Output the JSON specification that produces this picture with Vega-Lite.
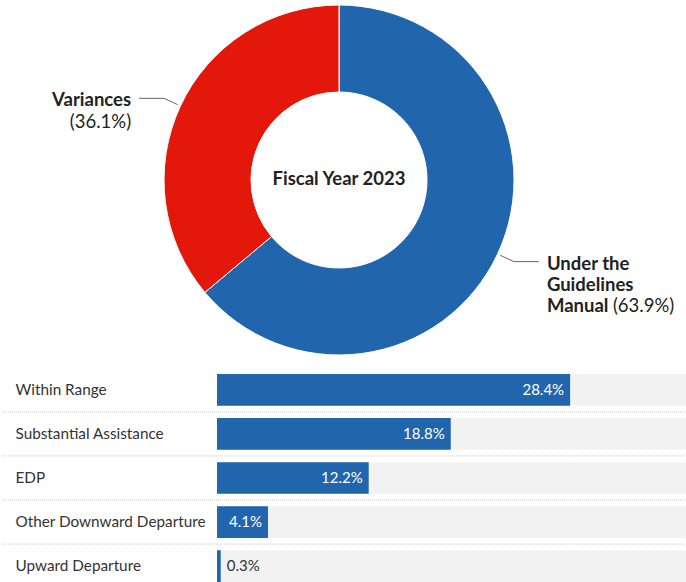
{
  "$schema": "https://vega.github.io/schema/vega-lite/v6.json",
  "padding": 0,
  "background": "white",
  "spacing": 14,
  "config": {"view": {"stroke": null}, "font": "Lato", "text": {"font": "Lato"}, "axis": {"labelFont": "Lato"}},
  "vconcat": [
    {
      "width": 676,
      "height": 360,
      "data": {"values": [
        {"name": "Under the Guidelines Manual", "value": 0.639, "ord": 1},
        {"name": "Variances", "value": 0.361, "ord": 2}
      ]},
      "transform": [
        {"stack": "value", "groupby": [], "sort": [{"field": "ord", "order": "ascending"}], "as": ["v0", "v1"]},
        {"calculate": "PI*(datum.v0+datum.v1)", "as": "a"},
        {"calculate": "178*sin(datum.a)", "as": "x0"},
        {"calculate": "178*cos(datum.a)", "as": "y0"},
        {"calculate": "193*sin(datum.a)", "as": "x1"},
        {"calculate": "193*cos(datum.a)", "as": "y1"},
        {"calculate": "datum.x1 + (sin(datum.a) > 0 ? 25 : -25)", "as": "x2"},
        {"calculate": "'(' + format(datum.value, '.1%') + ')'", "as": "pct"}
      ],
      "layer": [
        {
          "mark": {"type": "arc", "outerRadius": 175, "innerRadius": 88, "stroke": "#ffffff", "strokeWidth": 1},
          "encoding": {
            "theta": {"field": "v0", "type": "quantitative", "scale": {"domain": [0, 1]}},
            "theta2": {"field": "v1"},
            "color": {"field": "name", "type": "nominal", "scale": {"domain": ["Under the Guidelines Manual", "Variances"], "range": ["#2166ac", "#e3170a"]}, "legend": null}
          }
        },
        {
          "mark": {"type": "rule", "color": "#666666", "strokeWidth": 1},
          "encoding": {
            "x": {"field": "x0", "type": "quantitative", "scale": {"domain": [-338, 338], "nice": false, "zero": false}, "axis": null},
            "y": {"field": "y0", "type": "quantitative", "scale": {"domain": [-180, 180], "nice": false, "zero": false}, "axis": null},
            "x2": {"field": "x1"},
            "y2": {"field": "y1"}
          }
        },
        {
          "mark": {"type": "rule", "color": "#666666", "strokeWidth": 1},
          "encoding": {
            "x": {"field": "x1", "type": "quantitative", "scale": {"domain": [-338, 338], "nice": false, "zero": false}, "axis": null},
            "y": {"field": "y1", "type": "quantitative", "scale": {"domain": [-180, 180], "nice": false, "zero": false}, "axis": null},
            "x2": {"field": "x2"},
            "y2": {"field": "y1"}
          }
        },
        {
          "transform": [{"filter": "datum.name == 'Variances'"}],
          "mark": {"type": "text", "align": "right", "baseline": "alphabetic", "dx": -8, "dy": 8, "fontSize": 18.5, "fontWeight": "bold", "color": "#222222"},
          "encoding": {
            "x": {"field": "x2", "type": "quantitative", "scale": {"domain": [-338, 338], "nice": false, "zero": false}, "axis": null},
            "y": {"field": "y1", "type": "quantitative", "scale": {"domain": [-180, 180], "nice": false, "zero": false}, "axis": null},
            "text": {"field": "name"}
          }
        },
        {
          "transform": [{"filter": "datum.name == 'Variances'"}],
          "mark": {"type": "text", "align": "right", "baseline": "alphabetic", "dx": -8, "dy": 30, "fontSize": 18.5, "color": "#222222"},
          "encoding": {
            "x": {"field": "x2", "type": "quantitative", "scale": {"domain": [-338, 338], "nice": false, "zero": false}, "axis": null},
            "y": {"field": "y1", "type": "quantitative", "scale": {"domain": [-180, 180], "nice": false, "zero": false}, "axis": null},
            "text": {"field": "pct"}
          }
        },
        {
          "transform": [{"filter": "datum.name == 'Under the Guidelines Manual'"}],
          "mark": {"type": "text", "align": "left", "baseline": "alphabetic", "dx": 8, "dy": 8, "fontSize": 18.5, "fontWeight": "bold", "color": "#222222", "lineHeight": 21.2, "text": ["Under the", "Guidelines", "Manual"]},
          "encoding": {
            "x": {"field": "x2", "type": "quantitative", "scale": {"domain": [-338, 338], "nice": false, "zero": false}, "axis": null},
            "y": {"field": "y1", "type": "quantitative", "scale": {"domain": [-180, 180], "nice": false, "zero": false}, "axis": null}
          }
        },
        {
          "transform": [{"filter": "datum.name == 'Under the Guidelines Manual'"}],
          "mark": {"type": "text", "align": "left", "baseline": "alphabetic", "dx": 74, "dy": 50.4, "fontSize": 18.5, "color": "#222222"},
          "encoding": {
            "x": {"field": "x2", "type": "quantitative", "scale": {"domain": [-338, 338], "nice": false, "zero": false}, "axis": null},
            "y": {"field": "y1", "type": "quantitative", "scale": {"domain": [-180, 180], "nice": false, "zero": false}, "axis": null},
            "text": {"field": "pct"}
          }
        },
        {
          "transform": [{"filter": "datum.ord == 1"}],
          "mark": {"type": "text", "align": "center", "baseline": "alphabetic", "dy": 4.5, "fontSize": 18.5, "fontWeight": "bold", "color": "#222222", "text": "Fiscal Year 2023"},
          "encoding": {
            "x": {"datum": 0, "type": "quantitative", "scale": {"domain": [-338, 338], "nice": false, "zero": false}, "axis": null},
            "y": {"datum": 0, "type": "quantitative", "scale": {"domain": [-180, 180], "nice": false, "zero": false}, "axis": null}
          }
        }
      ]
    },
    {
      "width": 686,
      "height": 208,
      "data": {"values": [
        {"cat": "Within Range", "value": 0.284},
        {"cat": "Substantial Assistance", "value": 0.188},
        {"cat": "EDP", "value": 0.122},
        {"cat": "Other Downward Departure", "value": 0.041},
        {"cat": "Upward Departure", "value": 0.003}
      ]},
      "encoding": {
        "y": {
          "field": "cat", "type": "nominal", "sort": null,
          "scale": {"paddingInner": 0.28, "paddingOuter": 0},
          "axis": {"title": null, "domain": false, "ticks": false, "tickSize": 0, "labelAlign": "left", "labelPadding": -14, "labelFontSize": 15.3, "labelColor": "#333333", "labelLimit": 200, "labelFont": "Lato"}
        }
      },
      "layer": [
        {
          "transform": [{"filter": "datum.cat != 'Upward Departure'"}],
          "mark": {"type": "rule", "yOffset": 22, "color": "#cccccc", "strokeDash": [1, 1], "strokeWidth": 1},
          "encoding": {}
        },
        {
          "mark": {"type": "bar", "color": "#f2f2f2"},
          "encoding": {
            "x": {"datum": 0, "type": "quantitative", "scale": {"domain": [0, 0.378], "range": [216, 686], "nice": false, "zero": false}, "axis": null},
            "x2": {"datum": 0.378}
          }
        },
        {
          "mark": {"type": "bar", "color": "#2166ac"},
          "encoding": {
            "x": {"field": "value", "type": "quantitative", "scale": {"domain": [0, 0.378], "range": [216, 686], "nice": false, "zero": false}, "axis": null}
          }
        },
        {
          "transform": [{"filter": "datum.value >= 0.01"}],
          "mark": {"type": "text", "align": "right", "baseline": "middle", "dx": -6, "fontSize": 15, "color": "#ffffff"},
          "encoding": {
            "x": {"field": "value", "type": "quantitative", "scale": {"domain": [0, 0.378], "range": [216, 686], "nice": false, "zero": false}, "axis": null},
            "text": {"field": "value", "type": "quantitative", "format": ".1%"}
          }
        },
        {
          "transform": [{"filter": "datum.value < 0.01"}],
          "mark": {"type": "text", "align": "left", "baseline": "middle", "dx": 6, "fontSize": 15, "color": "#333333"},
          "encoding": {
            "x": {"field": "value", "type": "quantitative", "scale": {"domain": [0, 0.378], "range": [216, 686], "nice": false, "zero": false}, "axis": null},
            "text": {"field": "value", "type": "quantitative", "format": ".1%"}
          }
        }
      ]
    }
  ]
}
